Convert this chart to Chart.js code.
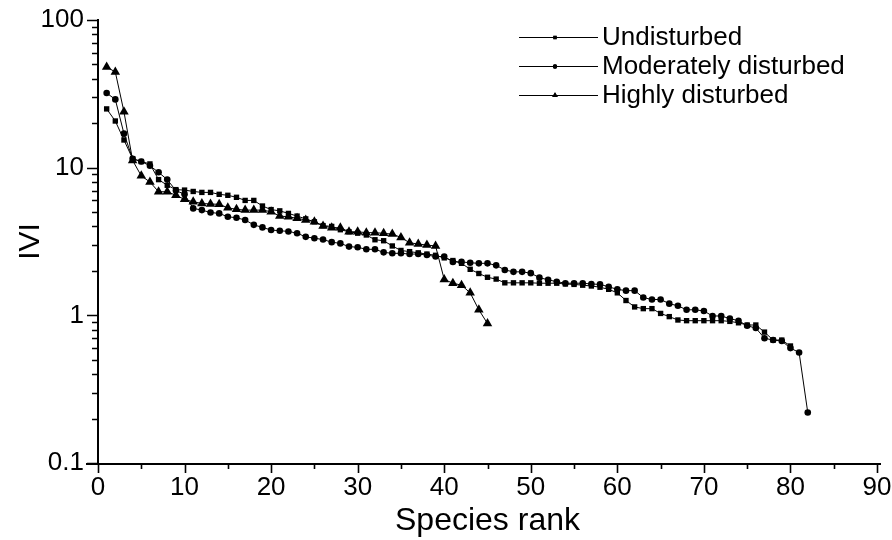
<!DOCTYPE html>
<html>
<head>
<meta charset="utf-8">
<script src="https://cdn.jsdelivr.net/npm/chart.js@4.4.1/dist/chart.umd.min.js"></script>
<style>
  html, body { margin: 0; padding: 0; background: #fff; }
  #wrap { width: 892px; height: 540px; }
</style>
</head>
<body>
<div id="wrap"><canvas id="ivi" width="892" height="540"></canvas></div>
<script>
// species rank / IVI values
const seriesNames = ["Undisturbed", "Moderately disturbed", "Highly disturbed"];

const undisturbed = [
  25, 20.7, 15.4, 11.5, 11.0, 10.6, 8.3, 7.6, 7.1, 7.05,
  6.9, 6.8, 6.8, 6.6, 6.5, 6.3, 6.0, 6.0, 5.5, 5.2,
  5.1, 4.9, 4.7, 4.5, 4.3, 4.05, 4.0, 3.8, 3.68, 3.6,
  3.5, 3.25, 3.2, 2.95, 2.75, 2.7, 2.65, 2.6, 2.55, 2.45,
  2.35, 2.25, 2.05, 1.92, 1.81, 1.76, 1.66, 1.66, 1.66, 1.66,
  1.65, 1.65, 1.65, 1.63, 1.62, 1.6, 1.58, 1.55, 1.5, 1.42,
  1.26, 1.14, 1.11, 1.11, 1.03, 0.98, 0.93, 0.92, 0.92, 0.92,
  0.92, 0.92, 0.91, 0.89, 0.86, 0.86, 0.77, 0.68, 0.68, 0.62
];

const moderate = [
  32, 29, 17, 11.5, 11, 10.3, 9.3, 8.3, 7.0, 6.6,
  5.3, 5.16, 4.97, 4.9, 4.65, 4.58, 4.42, 4.1, 3.94, 3.78,
  3.74, 3.7, 3.6, 3.4, 3.33, 3.26, 3.13, 3.07, 2.92, 2.89,
  2.8, 2.8, 2.67, 2.63, 2.63, 2.6, 2.6, 2.56, 2.5, 2.5,
  2.3, 2.3, 2.27, 2.25, 2.25, 2.18, 2.03, 1.97, 1.97, 1.93,
  1.8, 1.74, 1.69, 1.65, 1.65, 1.65, 1.63, 1.62, 1.56, 1.5,
  1.47, 1.47, 1.32, 1.28, 1.28, 1.2, 1.16, 1.09, 1.09, 1.07,
  0.99, 0.99, 0.95, 0.92, 0.85, 0.82, 0.7, 0.68, 0.67, 0.6,
  0.56, 0.22
];

const high = [
  48, 44.5, 23.9, 11.2, 8.8, 8.0, 6.87, 6.87, 6.5, 6.1,
  5.87, 5.73, 5.67, 5.65, 5.35, 5.22, 5.16, 5.16, 5.16, 5.03,
  4.7, 4.65, 4.54, 4.42, 4.31, 4.03, 3.92, 3.92, 3.68, 3.68,
  3.63, 3.63, 3.59, 3.55, 3.37, 3.1, 3.04, 2.99, 2.95, 1.75,
  1.65, 1.6, 1.42, 1.09, 0.88
];

const xTicks = [0, 10, 20, 30, 40, 50, 60, 70, 80, 90];
const yDecades = [0.1, 1, 10, 100];

const FONT = "'Liberation Sans', Arial, sans-serif";

function toPoints(arr) {
  return arr.map((v, i) => ({ x: i + 1, y: v }));
}

function noPad(scale) {
  scale.paddingTop = 0;
  scale.paddingBottom = 0;
  scale.paddingLeft = 0;
  scale.paddingRight = 0;
}

const styles = ["rect", "circle", "triangle"];
const radii = [3.8, 3.3, 5.5];

// axes lines, tick marks and the legend are drawn by hand
const decor = {
  id: "decor",
  afterDraw(chart) {
    const ctx = chart.ctx;
    const xs = chart.scales.x, ys = chart.scales.y;
    const x0 = xs.getPixelForValue(0);
    const yBot = ys.getPixelForValue(0.1);
    const yTop = ys.getPixelForValue(100);
    ctx.save();
    ctx.strokeStyle = "#000";
    ctx.lineWidth = 2;
    ctx.beginPath();
    ctx.moveTo(x0, yTop - 1);
    ctx.lineTo(x0, yBot + 1);
    ctx.moveTo(x0 - 12, yBot + 1);
    ctx.lineTo(xs.getPixelForValue(90) + 4, yBot + 1);
    ctx.stroke();

    // y ticks (outward)
    ctx.lineWidth = 1.6;
    ctx.beginPath();
    yDecades.forEach((d, k) => {
      for (let m = 1; m <= 9; m++) {
        if (k === yDecades.length - 1 && m > 1) break;
        const v = d * m;
        const py = Math.round(ys.getPixelForValue(v)) + 0.5;
        const len = m === 1 ? 11 : 6;
        ctx.moveTo(x0, py);
        ctx.lineTo(x0 - len, py);
      }
    });
    // x ticks (outward)
    for (let v = 0; v <= 90; v += 5) {
      const px = Math.round(xs.getPixelForValue(v)) + 0.5;
      const len = v % 10 === 0 ? 9 : 5;
      ctx.moveTo(px, yBot + 1);
      ctx.lineTo(px, yBot + 1 + len);
    }
    ctx.stroke();

    // legend
    const rowsY = [37, 66, 95];
    const legR = [2.4, 2.2, 3.2];
    ctx.font = "26px " + FONT;
    ctx.textBaseline = "middle";
    ctx.fillStyle = "#000";
    seriesNames.forEach((name, i) => {
      const y = rowsY[i];
      ctx.lineWidth = 1;
      ctx.beginPath();
      ctx.moveTo(519, y + 0.5);
      ctx.lineTo(598, y + 0.5);
      ctx.stroke();
      Chart.helpers.drawPoint(ctx, { pointStyle: styles[i], radius: legR[i], borderWidth: 0 }, 555, y + 0.5);
      ctx.fill();
      ctx.fillText(name, 602, y + 1);
    });
    ctx.restore();
  }
};

const sets = [undisturbed, moderate, high].map((arr, i) => ({
  label: seriesNames[i],
  data: toPoints(arr),
  borderColor: "#000",
  backgroundColor: "#000",
  borderWidth: 1,
  pointStyle: styles[i],
  pointRadius: radii[i],
  pointBorderWidth: 0,
  pointBackgroundColor: "#000",
  tension: 0,
  clip: false
}));

new Chart(document.getElementById("ivi"), {
  type: "line",
  data: { datasets: sets },
  options: {
    responsive: false,
    animation: false,
    devicePixelRatio: 1,
    layout: { padding: { top: 20, right: 15, left: 0, bottom: 0 } },
    plugins: { legend: { display: false }, tooltip: { enabled: false } },
    scales: {
      x: {
        type: "linear",
        min: 0,
        max: 90,
        afterFit(scale) { scale.height = 77; noPad(scale); },
        afterBuildTicks(scale) { scale.ticks = xTicks.map(v => ({ value: v })); },
        border: { display: false },
        grid: { display: false, drawTicks: false },
        ticks: {
          padding: 9,
          color: "#000",
          font: { family: FONT, size: 26 },
          maxRotation: 0
        },
        title: {
          display: true,
          text: "Species rank",
          color: "#000",
          font: { family: FONT, size: 32 },
          padding: { top: 0, bottom: 0 }
        }
      },
      y: {
        type: "logarithmic",
        min: 0.1,
        max: 100,
        afterFit(scale) { scale.width = 98; noPad(scale); },
        afterBuildTicks(scale) { scale.ticks = yDecades.map(v => ({ value: v })); },
        border: { display: false },
        grid: { display: false, drawTicks: false },
        ticks: {
          padding: 14,
          color: "#000",
          autoSkip: false,
          font: { family: FONT, size: 26 },
          callback: v => String(v)
        },
        title: {
          display: true,
          text: "IVI",
          color: "#000",
          font: { family: FONT, size: 30 },
          padding: { top: 13, bottom: 0 }
        }
      }
    }
  },
  plugins: [decor]
});
</script>
</body>
</html>
